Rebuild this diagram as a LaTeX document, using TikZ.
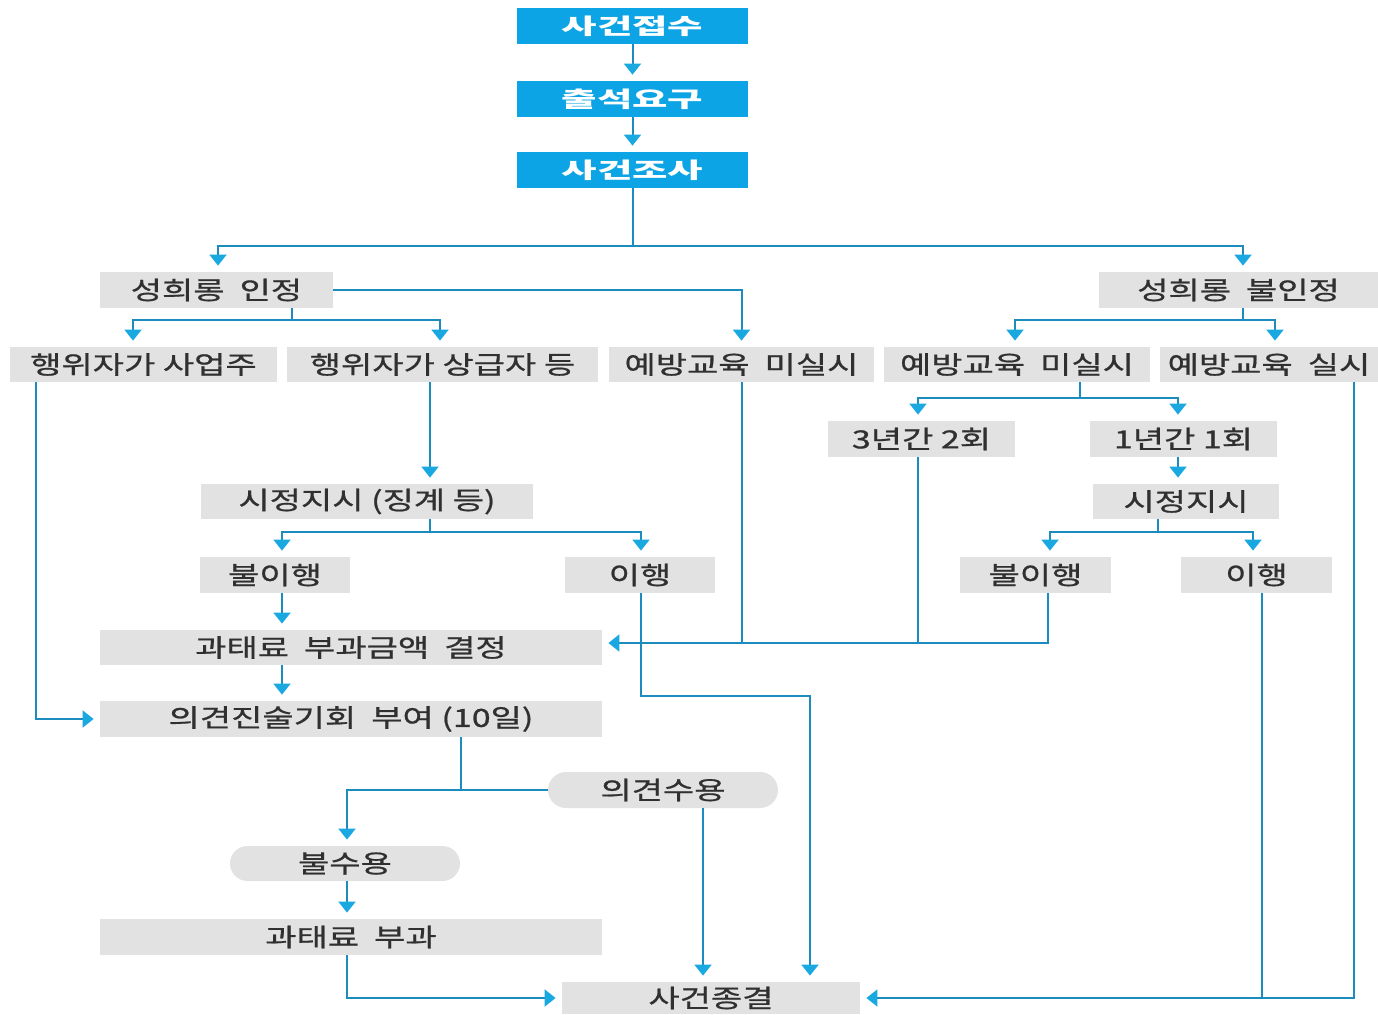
\documentclass[tikz,border=0pt]{standalone}
\usepackage{fontspec}
\newfontfamily\kr[FakeStretch=1.36,FakeBold=0.8]{Noto Sans CJK KR}
\newfontfamily\krb[FakeStretch=1.75]{Noto Sans CJK KR}
\usetikzlibrary{arrows.meta,calc,shapes.misc}
\definecolor{bluebox}{RGB}{12,164,228}
\definecolor{lnblue}{RGB}{28,140,190}
\definecolor{tipblue}{RGB}{26,168,224}
\definecolor{graybox}{RGB}{226,226,226}
\definecolor{txt}{RGB}{48,48,48}
\newcommand{\wsp}{\hspace{0.6em}}
\tikzset{
  bbox/.style={fill=bluebox,text=white,inner sep=0pt,font=\krb\bfseries\fontsize{11}{13}\selectfont},
  gbox/.style={fill=graybox,text=txt,inner sep=0pt,font=\kr\fontsize{12.5}{14}\selectfont},
  pill/.style={gbox,rounded rectangle},
  ln/.style={draw=lnblue,line width=1pt},
  arr/.style={ln,-{Triangle[width=8.5pt,length=5.5pt,color=tipblue]},shorten >=3pt},
}
\begin{document}
\begin{tikzpicture}[x=0.5pt,y=-0.5pt]
\useasboundingbox (0,0) rectangle (1378,1014);
% nodes
\node[bbox,minimum width=115.5pt,minimum height=18pt] (s1) at (632.5,26) {사건접수};
\node[bbox,minimum width=115.5pt,minimum height=18pt] (s2) at (632.5,99) {출석요구};
\node[bbox,minimum width=115.5pt,minimum height=18pt] (s3) at (632.5,170) {사건조사};
\node[gbox,minimum width=116.5pt,minimum height=18pt] (a) at (216.5,290) {성희롱\wsp 인정};
\node[gbox,minimum width=139.5pt,minimum height=18pt] (b) at (1238.5,290) {성희롱\wsp 불인정};
\node[gbox,minimum width=133.5pt,minimum height=17.5pt] (c1) at (143.5,364.5) {행위자가 사업주};
\node[gbox,minimum width=155.5pt,minimum height=17.5pt] (c2) at (442.5,364.5) {행위자가 상급자 등};
\node[gbox,minimum width=132.5pt,minimum height=17.5pt] (c3) at (741.5,364.5) {예방교육\wsp 미실시};
\node[gbox,minimum width=133pt,minimum height=17.5pt] (c4) at (1017,364.5) {예방교육\wsp 미실시};
\node[gbox,minimum width=109pt,minimum height=17.5pt] (c5) at (1269,364.5) {예방교육\wsp 실시};
\node[gbox,minimum width=93.5pt,minimum height=18pt] (d1) at (921.5,439) {3년간 2회};
\node[gbox,minimum width=93.5pt,minimum height=18pt] (d2) at (1183.5,439) {1년간 1회};
\node[gbox,minimum width=166pt,minimum height=17.5pt] (e1) at (367,501.5) {시정지시 (징계 등)};
\node[gbox,minimum width=93pt,minimum height=17.5pt] (e2) at (1186,501.5) {시정지시};
\node[gbox,minimum width=75pt,minimum height=18pt] (f1) at (275,575) {불이행};
\node[gbox,minimum width=75pt,minimum height=18pt] (f2) at (640,575) {이행};
\node[gbox,minimum width=75.5pt,minimum height=18pt] (f3) at (1035.5,575) {불이행};
\node[gbox,minimum width=75.5pt,minimum height=18pt] (f4) at (1256.5,575) {이행};
\node[gbox,minimum width=251pt,minimum height=17.5pt] (g) at (351,647.5) {과태료\wsp 부과금액\wsp 결정};
\node[gbox,minimum width=251pt,minimum height=18pt] (h) at (351,719) {의견진술기회\wsp 부여 (10일)};
\node[pill,minimum width=115pt,minimum height=18pt] (i) at (663,790) {의견수용};
\node[pill,minimum width=115pt,minimum height=17.5pt] (j) at (345,863.5) {불수용};
\node[gbox,minimum width=251pt,minimum height=18pt] (k) at (351,937) {과태료\wsp 부과};
\node[gbox,minimum width=149pt,minimum height=16pt] (l) at (711,998) {사건종결};
% connectors
\draw[arr] (s1.south) -- (s2.north);
\draw[arr] (s2.south) -- (s3.north);
\draw[ln] (s3.south) -- ++(0,58) coordinate (sp1);
\draw[arr] (sp1) -| ($(a.north)+(1.5,0)$);
\draw[arr] (sp1) -| ($(b.north)+(4.5,0)$);
\draw[arr] (a.east) -| (c3.north);
\draw[ln] ($(a.south)+(75.5,0)$) -- ++(0,12) coordinate (sp2);
\draw[arr] (sp2) -| ($(c1.north)+(-10.5,0)$);
\draw[arr] (sp2) -| ($(c2.north)+(-2.5,0)$);
\draw[ln] ($(b.south)+(4.5,0)$) -- ++(0,12) coordinate (sp3);
\draw[arr] (sp3) -| ($(c4.north)+(-2,0)$);
\draw[arr] (sp3) -| ($(c5.north)+(6,0)$);
\draw[ln] ($(c4.south)+(63,0)$) -- ++(0,16) coordinate (sp4);
\draw[arr] (sp4) -| ($(d1.north)+(-3.5,0)$);
\draw[arr] (sp4) -| ($(d2.north)+(-5.5,0)$);
\draw[arr] ($(d2.south)+(-5.5,0)$) -- ($(e2.north)+(-8,0)$);
\draw[ln] ($(e2.south)+(-28,0)$) -- ++(0,13) coordinate (sp5);
\draw[arr] (sp5) -| ($(f3.north)+(14.5,0)$);
\draw[arr] (sp5) -| ($(f4.north)+(-3.5,0)$);
\draw[arr] ($(c2.south)+(-12.5,0)$) -- ($(e1.north)+(63,0)$);
\draw[ln] ($(e1.south)+(63,0)$) -- ++(0,13) coordinate (sp6);
\draw[arr] (sp6) -| ($(f1.north)+(7,0)$);
\draw[arr] (sp6) -| ($(f2.north)+(1,0)$);
\draw[arr] ($(f1.south)+(7,0)$) -- ($(g.north)+(-69,0)$);
\draw[arr] ($(f3.south)+(12.5,0)$) |- ($(g.east)+(0,-4.5)$);
\draw[ln] (c3.south) -- ++(0,261);
\draw[ln] ($(d1.south)+(-3.5,0)$) -- ++(0,186);
\draw[arr] ($(g.south)+(-69,0)$) -- ($(h.north)+(-69,0)$);
\draw[arr] ($(c1.south)+(-107.5,0)$) |- (h.west);
\draw[arr] ($(f2.south)+(1,0)$) -- ++(0,103) -| ($(l.north)+(99,0)$);
\draw[ln] ($(h.south)+(110,0)$) -- ++(0,53);
\draw[arr] (i.west) -| ($(j.north)+(2,0)$);
\draw[arr] ($(i.south)+(40,0)$) -- ($(l.north)+(-8,0)$);
\draw[arr] ($(j.south)+(2,0)$) -- ($(k.north)+(-4,0)$);
\draw[arr] ($(k.south)+(-4,0)$) |- (l.west);
\draw[arr] ($(c5.south)+(85,0)$) |- (l.east);
\draw[ln] ($(f4.south)+(5.5,0)$) -- ++(0,406);
\end{tikzpicture}
\end{document}
